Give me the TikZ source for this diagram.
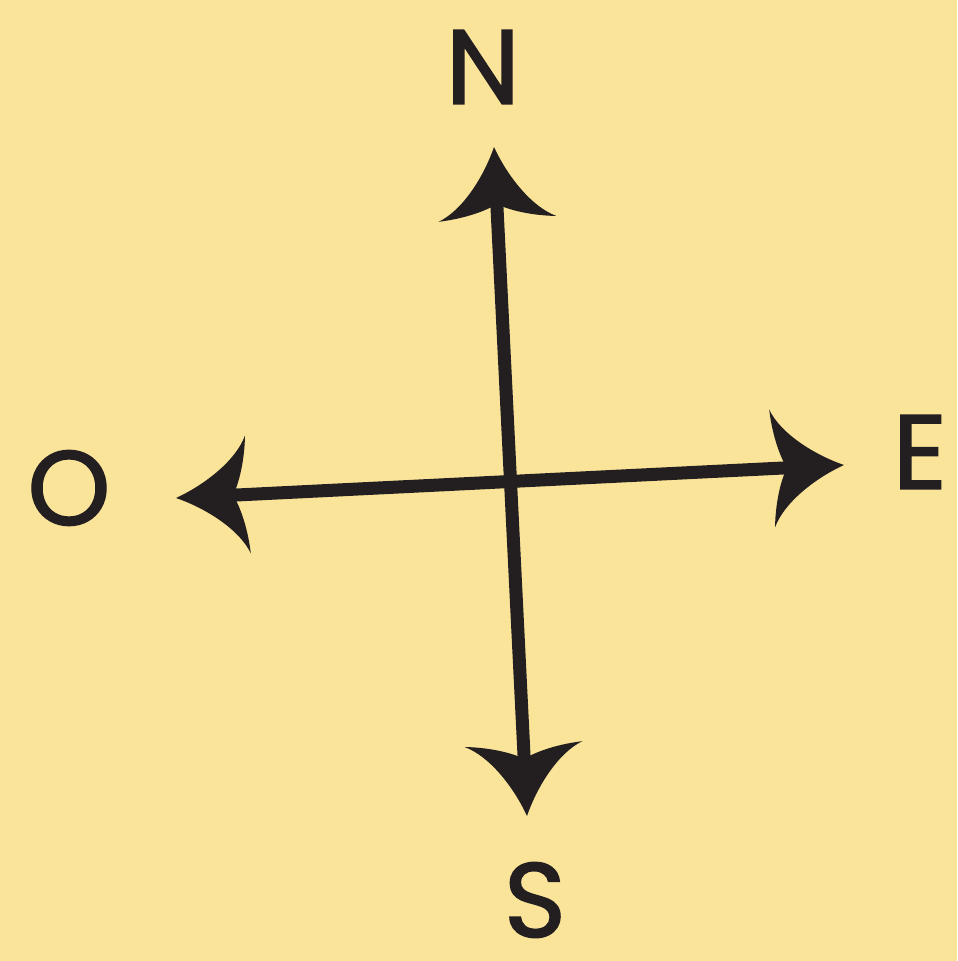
\documentclass[tikz,border=0pt]{standalone}
\usepackage{fontspec}
\setmainfont{Poppins}[FakeBold=1.6]
\usetikzlibrary{arrows.meta}
\definecolor{compassbg}{RGB}{250,228,154}
\definecolor{compassink}{RGB}{35,31,32}

% flared arrow tip with curved barbs
\pgfdeclarearrow{
  name = Flare,
  setup code = {
    \pgfarrowssettipend{0pt}
    \pgfarrowssetlineend{-0.5cm}
    \pgfarrowssetbackend{-0.72cm}
    \pgfarrowsupperhullpoint{0pt}{0pt}
    \pgfarrowsupperhullpoint{-0.72cm}{0.59cm}
  },
  drawing code = {
    \pgfpathmoveto{\pgfpointorigin}
    \pgfpathcurveto{\pgfpoint{-0.3cm}{0.12cm}}{\pgfpoint{-0.62cm}{0.35cm}}{\pgfpoint{-0.72cm}{0.59cm}}
    \pgfpathcurveto{\pgfpoint{-0.70cm}{0.30cm}}{\pgfpoint{-0.62cm}{0.08cm}}{\pgfpoint{-0.57cm}{0pt}}
    \pgfpathcurveto{\pgfpoint{-0.62cm}{-0.08cm}}{\pgfpoint{-0.70cm}{-0.30cm}}{\pgfpoint{-0.72cm}{-0.59cm}}
    \pgfpathcurveto{\pgfpoint{-0.62cm}{-0.35cm}}{\pgfpoint{-0.3cm}{-0.12cm}}{\pgfpointorigin}
    \pgfpathclose
    \pgfusepathqfill
  }
}

\begin{document}
\begin{tikzpicture}[
      lbl/.style={inner sep=0pt,text=compassink,font=\fontsize{30}{32}\selectfont},
      axis/.style={line width=0.13cm,color=compassink,Flare-Flare}
    ]
    \fill[compassbg] (0,0) rectangle (9.57,9.61);
    \useasboundingbox (0,0) rectangle (9.57,9.61);
    % arrow tips
    \coordinate (ntip) at (4.94,8.14);
    \coordinate (stip) at (5.27,1.45);
    \coordinate (etip) at (8.44,4.96);
    \coordinate (otip) at (1.76,4.63);
    % labels
    \node[lbl] (n) at (4.83,8.94) {N};
    \node[lbl] (s) at (5.35,0.61) {S};
    \node[lbl] (e) at (9.20,5.09) {E};
    \node[lbl] (o) at (0.69,4.73) {O};
    \draw[axis] (ntip) -- (stip);
    \draw[axis] (otip) -- (etip);
  \end{tikzpicture}
\end{document}
